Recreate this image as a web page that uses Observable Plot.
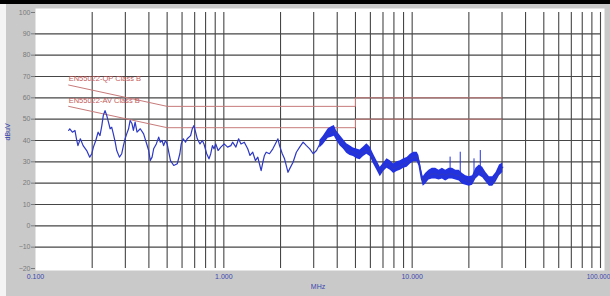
<!DOCTYPE html>
<html>
<head>
<meta charset="utf-8">
<script src="https://cdn.jsdelivr.net/npm/d3@7"></script>
<script src="https://cdn.jsdelivr.net/npm/@observablehq/plot@0.6"></script>
<style>
  html, body { margin: 0; padding: 0; background: #ffffff; }
  #topbar { width: 610px; height: 4px; background: #000; }
  #chart svg { display: block; }
</style>
</head>
<body>
<div id="topbar"></div>
<div id="chart"></div>
<script>
// Measured trace (MHz, dBuV)
const traceF = [
  0.150,0.152,0.157,0.162,0.165,0.168,0.173,0.179,0.187,0.194,
  0.199,0.203,0.209,0.215,0.220,0.225,0.229,0.234,0.239,0.244,
  0.249,0.254,0.259,0.265,0.270,0.279,0.287,0.293,0.299,0.305,
  0.312,0.318,0.325,0.331,0.338,0.346,0.360,0.375,0.387,0.399,
  0.407,0.416,0.424,0.438,0.451,0.460,0.470,0.479,0.490,0.500,
  0.510,0.521,0.542,0.566,0.584,0.594,0.609,0.626,0.639,0.666,
  0.680,0.694,0.708,0.723,0.747,0.769,0.784,0.811,0.834,0.852,
  0.870,0.887,0.906,0.932,0.964,1.004,1.047,1.090,1.113,1.159,
  1.198,1.233,1.284,1.339,1.377,1.424,1.471,1.515,1.545,1.578,
  1.611,1.643,1.678,1.747,1.821,1.897,1.937,1.976,2.043,2.101,
  2.191,2.235,2.331,2.427,2.527,2.636,2.745,2.858,2.981,3.105,
  3.233,3.372,3.439,3.585,3.734,3.861,3.972,4.137,4.313,4.492,
  4.679,4.878,5.081,5.291,5.517,5.746,5.984,6.240,6.500,6.769,
  7.058,7.351,7.656,7.982,8.314,8.659,9.029,9.404,9.793,10.21,
  10.63,10.86,11.17,11.45,11.78,12.28,12.79,13.33,13.90,14.47,
  15.07,15.72,16.37,17.05,17.78,18.51,19.28,20.11,20.94,21.81,
  22.74,23.68,24.66,25.72,26.78,27.90,29.09,30.29
];
const traceDb = [
  44.7,45.5,43.9,44.7,40.8,37.6,40.8,37.6,35.3,32.2,
  33.8,36.9,40.0,43.9,42.3,47.0,51.7,54.0,51.7,48.6,
  45.5,46.2,43.1,39.2,35.3,32.2,33.8,37.6,40.8,43.1,
  45.5,49.4,48.0,44.7,48.6,43.9,45.5,43.1,39.2,35.3,
  30.6,32.2,36.1,38.4,41.6,39.2,40.0,37.6,40.0,38.4,
  34.5,30.6,28.3,29.1,33.8,38.4,40.8,39.2,40.8,42.3,
  45.5,47.0,43.9,40.8,38.4,40.0,38.4,33.8,31.4,33.8,
  37.6,36.1,38.4,35.3,36.9,38.4,36.9,37.6,39.2,36.9,
  40.8,38.4,39.2,36.1,33.0,34.5,30.6,32.2,29.1,25.9,
  29.8,33.0,34.5,33.8,36.1,39.2,40.8,37.6,33.8,31.4,
  25.1,26.7,29.8,34.5,36.9,39.2,37.6,36.1,33.8,35.3,
  38.4,40.0,41.6,43.1,43.9,44.7,42.3,40.0,38.4,36.1,
  35.3,34.5,33.8,33.0,34.5,35.0,34.5,31.4,28.3,25.1,
  27.5,29.1,28.3,26.7,27.5,28.3,29.1,29.8,31.4,32.2,
  32.2,30.6,24.4,20.5,22.1,23.6,24.4,24.4,23.6,24.4,
  23.6,24.4,24.4,23.6,23.6,22.1,21.3,20.5,21.3,24.4,
  25.9,25.1,22.8,20.5,20.5,22.8,25.9,27.5
];

// Noise envelope of the trace above ~3 MHz
const bandF = [3.233,3.372,3.585,3.734,3.861,3.972,4.137,4.313,4.492,4.679,
  4.878,5.081,5.291,5.517,5.746,5.984,6.240,6.500,6.769,7.058,
  7.351,7.656,7.982,8.314,8.659,9.029,9.404,9.793,10.21,10.63,
  10.86,11.17,11.45,11.78,12.28,12.79,13.33,13.90,14.47,15.07,
  15.72,16.37,17.05,17.78,18.51,19.28,20.11,20.94,21.81,22.74,
  23.68,24.66,25.72,26.78,27.90,29.09,30.29];
const bandLo = [36.5,38.0,41.0,41.5,42.0,40.0,37.5,36.0,34.0,33.0,
  32.5,31.5,31.0,32.5,33.5,32.5,29.0,26.0,23.0,25.5,
  27.0,26.0,24.5,25.5,26.0,27.0,27.5,29.0,30.0,30.0,
  28.0,22.0,18.5,19.5,21.5,22.0,22.0,21.5,22.0,21.0,
  22.0,22.0,21.5,21.0,19.5,19.0,18.5,19.0,22.0,23.5,
  22.5,20.5,18.5,18.5,20.5,23.5,25.0];
const bandHi = [40.0,42.0,45.5,46.5,47.0,44.5,42.5,40.5,38.5,37.5,
  36.5,36.0,35.5,37.0,38.5,37.0,33.5,30.5,27.5,29.5,
  31.5,30.5,29.0,30.0,30.5,31.5,32.0,33.5,34.5,34.5,
  33.0,27.0,23.0,24.5,26.0,27.0,27.0,26.0,27.0,26.0,
  27.0,27.0,26.0,26.0,24.5,23.5,23.0,23.5,27.0,28.5,
  27.5,25.0,23.0,23.0,25.0,28.5,29.5];

// Narrow spikes
const spikeF = [15.9, 18.0, 21.3, 23.0];
const spikeBase = [25.0, 25.0, 24.0, 26.0];
const spikeTop = [32.2, 34.5, 31.4, 35.3];

// Limit lines
const limitF = [0.15, 0.5, 0.5, 5, 5, 30];
const limitQP = [66, 56, 56, 56, 60, 60];
const limitAV = [56, 46, 46, 46, 50, 50];
const limitNames = ["EN55022-QP Class B", "EN55022-AV Class B"];

// Axes
const gridFreqs = [0.2,0.3,0.4,0.5,0.6,0.7,0.8,0.9,1,2,3,4,5,6,7,8,9,10,20,30,40,50,60,70,80,90,100];
const gridDb = [-10,0,10,20,30,40,50,60,70,80,90];
const xTicks = [0.1, 1, 10];
const xTicksEnd = [100];
const yTicks = [-20,-10,0,10,20,30,40,50,60,70,80,90,100];
const xLabel = "MHz";
const yLabel = "dBuV";

const trace = traceF.map((f, i) => ({f, db: traceDb[i]}));
const band = bandF.map((f, i) => ({f, lo: bandLo[i], hi: bandHi[i]}));
const spikes = spikeF.map((f, i) => ({f, base: spikeBase[i], top: spikeTop[i]}));
const qp = limitF.map((f, i) => ({f, db: limitQP[i]}));
const av = limitF.map((f, i) => ({f, db: limitAV[i]}));
const limitLabels = [
  {f: limitF[0], db: limitQP[0], t: limitNames[0]},
  {f: limitF[0], db: limitAV[0], t: limitNames[1]}
];

const blue = "#3a46b0";
const fmt = d3.format(".3f");
const chart = Plot.plot({
  width: 610,
  height: 292,
  marginTop: 8,
  marginBottom: 28,
  marginLeft: 35,
  marginRight: 10,
  style: {
    background: "linear-gradient(to right, #f4f4f4 0px, #f4f4f4 6px, #c9c9c9 6px)",
    fontFamily: "'Liberation Sans', Arial, sans-serif",
    fontSize: "7px",
    overflow: "visible"
  },
  x: {type: "log", domain: [0.1, 100]},
  y: {domain: [-20, 100]},
  marks: [
    Plot.frame({fill: "white", stroke: "none", insetTop: -4, insetBottom: -2, insetRight: -4}),
    Plot.gridX(gridFreqs, {stroke: "#464646", strokeOpacity: 1, strokeWidth: 1.1}),
    Plot.gridY(gridDb, {stroke: "#464646", strokeOpacity: 1, strokeWidth: 1.1}),
    Plot.line(qp, {x: "f", y: "db", stroke: "#c87a7a", strokeWidth: 1}),
    Plot.line(av, {x: "f", y: "db", stroke: "#c87a7a", strokeWidth: 1}),
    Plot.text(limitLabels, {x: "f", y: "db", text: "t", textAnchor: "start", dy: -6, fill: "#c45a5a", fontSize: 7.5}),
    Plot.areaY(band, {x: "f", y1: "lo", y2: "hi", fill: "#2232e0", fillOpacity: 1}),
    Plot.ruleX(spikes, {x: "f", y1: "base", y2: "top", stroke: "#2232e0", strokeWidth: 1}),
    Plot.line(trace, {x: "f", y: "db", stroke: "#2d38c4", strokeWidth: 1.2}),
    Plot.axisY(yTicks, {tickSize: 4, tickPadding: 1, color: "#7a7a7a", fontSize: 7, label: null}),
    Plot.axisX(xTicks, {tickSize: 0, tickPadding: 6, tickFormat: fmt, color: blue, fontSize: 7, label: null}),
    Plot.axisX(xTicksEnd, {tickSize: 0, tickPadding: 6, tickFormat: fmt, color: blue, fontSize: 6.5, dx: -2, label: null}),
    Plot.text([xLabel], {frameAnchor: "bottom", dy: 20, fill: blue, fontSize: 7}),
    Plot.text([yLabel], {frameAnchor: "left", dx: -28, rotate: -90, fill: blue, fontSize: 7})
  ]
});
document.getElementById("chart").appendChild(chart);
</script>
</body>
</html>
